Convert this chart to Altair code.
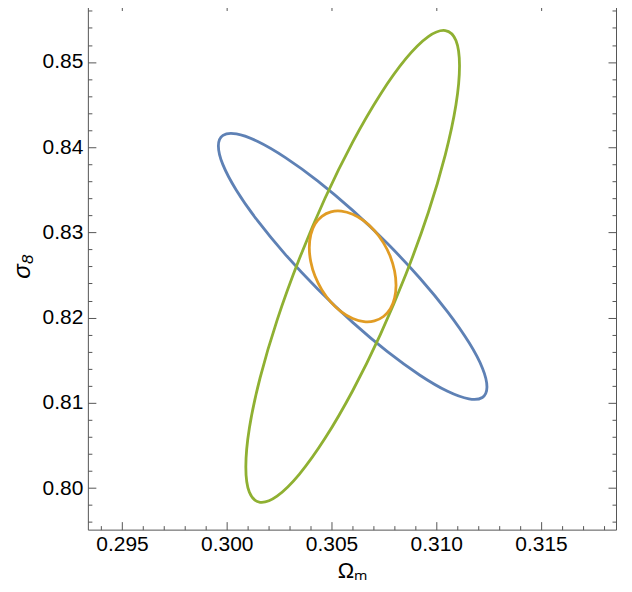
import altair as alt
import pandas as pd

# Contour points (Omega_m, sigma_8), going round each ellipse
blue_x = [0.31242, 0.31221, 0.31157, 0.31055, 0.30922, 0.30767, 0.30601, 0.30435,
          0.30280, 0.30148, 0.30046, 0.29982, 0.29960, 0.29981, 0.30045, 0.30147,
          0.30280, 0.30435, 0.30601, 0.30767, 0.30922, 0.31054, 0.31156, 0.31220]
blue_y = [0.81185, 0.81404, 0.81704, 0.82065, 0.82462, 0.82869, 0.83258, 0.83602,
          0.83878, 0.84067, 0.84156, 0.84139, 0.84017, 0.83798, 0.83498, 0.83137,
          0.82740, 0.82333, 0.81944, 0.81600, 0.81324, 0.81135, 0.81046, 0.81063]

green_x = [0.31111, 0.31094, 0.31043, 0.30962, 0.30856, 0.30733, 0.30601, 0.30469,
           0.30346, 0.30240, 0.30159, 0.30108, 0.30091, 0.30108, 0.30159, 0.30240,
           0.30346, 0.30469, 0.30601, 0.30733, 0.30856, 0.30962, 0.31043, 0.31094]
green_y = [0.84955, 0.85252, 0.85369, 0.85297, 0.85041, 0.84619, 0.84060, 0.83401,
           0.82687, 0.81968, 0.81292, 0.80705, 0.80247, 0.79950, 0.79833, 0.79905,
           0.80161, 0.80583, 0.81142, 0.81801, 0.82515, 0.83234, 0.83910, 0.84497]

orange_x = [0.30808, 0.30801, 0.30781, 0.30748, 0.30705, 0.30655, 0.30601, 0.30547,
            0.30497, 0.30454, 0.30421, 0.30401, 0.30394, 0.30401, 0.30421, 0.30454,
            0.30497, 0.30547, 0.30601, 0.30655, 0.30705, 0.30748, 0.30781, 0.30801]
orange_y = [0.82380, 0.82546, 0.82715, 0.82877, 0.83020, 0.83134, 0.83212, 0.83249,
            0.83241, 0.83189, 0.83098, 0.82973, 0.82822, 0.82656, 0.82487, 0.82325,
            0.82182, 0.82068, 0.81990, 0.81953, 0.81961, 0.82013, 0.82104, 0.82229]

x_major = [0.295, 0.300, 0.305, 0.310, 0.315]
x_minor = [0.294, 0.296, 0.297, 0.298, 0.299, 0.301, 0.302, 0.303, 0.304, 0.306,
           0.307, 0.308, 0.309, 0.311, 0.312, 0.313, 0.314, 0.316, 0.317, 0.318]
y_major = [0.80, 0.81, 0.82, 0.83, 0.84, 0.85]
y_minor = [0.796, 0.798, 0.802, 0.804, 0.806, 0.808, 0.812, 0.814, 0.816, 0.818,
           0.822, 0.824, 0.826, 0.828, 0.832, 0.834, 0.836, 0.838, 0.842, 0.844,
           0.846, 0.848, 0.852, 0.854, 0.856]

x_domain = [0.29337, 0.31858]
y_domain = [0.79512, 0.85698]

names = ["blue", "green", "orange"]
colors = ["#5E81B5", "#8FB032", "#E19C24"]

rows = []
for name, xs_, ys_ in [("blue", blue_x, blue_y), ("green", green_x, green_y),
                       ("orange", orange_x, orange_y)]:
    for i, (a, b) in enumerate(zip(xs_, ys_)):
        rows.append({"om": a, "s8": b, "ell": name, "i": i})
df = pd.DataFrame(rows)

FONT = "Liberation Sans Narrow, Liberation Sans, Arial"
TICK = "#555555"

xs = alt.Scale(domain=x_domain, nice=False, zero=False)
ys = alt.Scale(domain=y_domain, nice=False, zero=False)


def ax(orient, values, size, labels=False, fmt=None, title=None, **kw):
    args = dict(orient=orient, values=values, tickSize=size, offset=-size,
                labels=labels, domain=False, grid=False, tickColor=TICK,
                tickWidth=1, title=title)
    if fmt:
        args["format"] = fmt
    args.update(kw)
    return alt.Axis(**args)


base = alt.Chart(df)

lines = base.mark_line(interpolate="cardinal-closed", strokeWidth=2.8).encode(
    x=alt.X("om:Q", scale=xs,
            axis=ax("bottom", x_major, 8, labels=True, fmt=".3f", title="Ωₘ",
                    labelFont=FONT, labelFontSize=21, labelColor="black",
                    labelPadding=4, titleFont="Liberation Sans",
                    titleFontSize=22, titleFontWeight="normal",
                    titleColor="black", titlePadding=6)),
    y=alt.Y("s8:Q", scale=ys,
            axis=ax("left", y_major, 8, labels=True, fmt=".2f", title="σ₈",
                    labelFont=FONT, labelFontSize=21, labelColor="black",
                    labelPadding=5, titleFont="Liberation Sans",
                    titleFontSize=24, titleFontWeight="normal",
                    titleFontStyle="italic",
                    titleColor="black", titlePadding=8)),
    color=alt.Color("ell:N", scale=alt.Scale(domain=names, range=colors), legend=None),
    detail="ell:N",
    order="i:Q",
)


def ghost(xa, ya):
    return base.mark_point(opacity=0).encode(
        x=alt.X("om:Q", scale=xs, axis=xa),
        y=alt.Y("s8:Q", scale=ys, axis=ya),
    )


l2 = ghost(ax("bottom", x_minor, 4), ax("left", y_minor, 4))
l3 = ghost(ax("top", x_major, 8), ax("right", y_major, 8))
l4 = ghost(ax("top", x_minor, 4), ax("right", y_minor, 4))

chart = alt.layer(lines, l2, l3, l4).resolve_axis(
    x="independent", y="independent"
).resolve_scale(x="shared", y="shared").properties(
    width=529, height=528,
    autosize=alt.AutoSizeParams(type="none"),
    padding={"left": 80, "top": -6, "right": 8, "bottom": 62},
).configure_view(stroke="#555555", strokeWidth=1)

chart.save("out.html", embed_options={"renderer": "svg", "actions": False})
